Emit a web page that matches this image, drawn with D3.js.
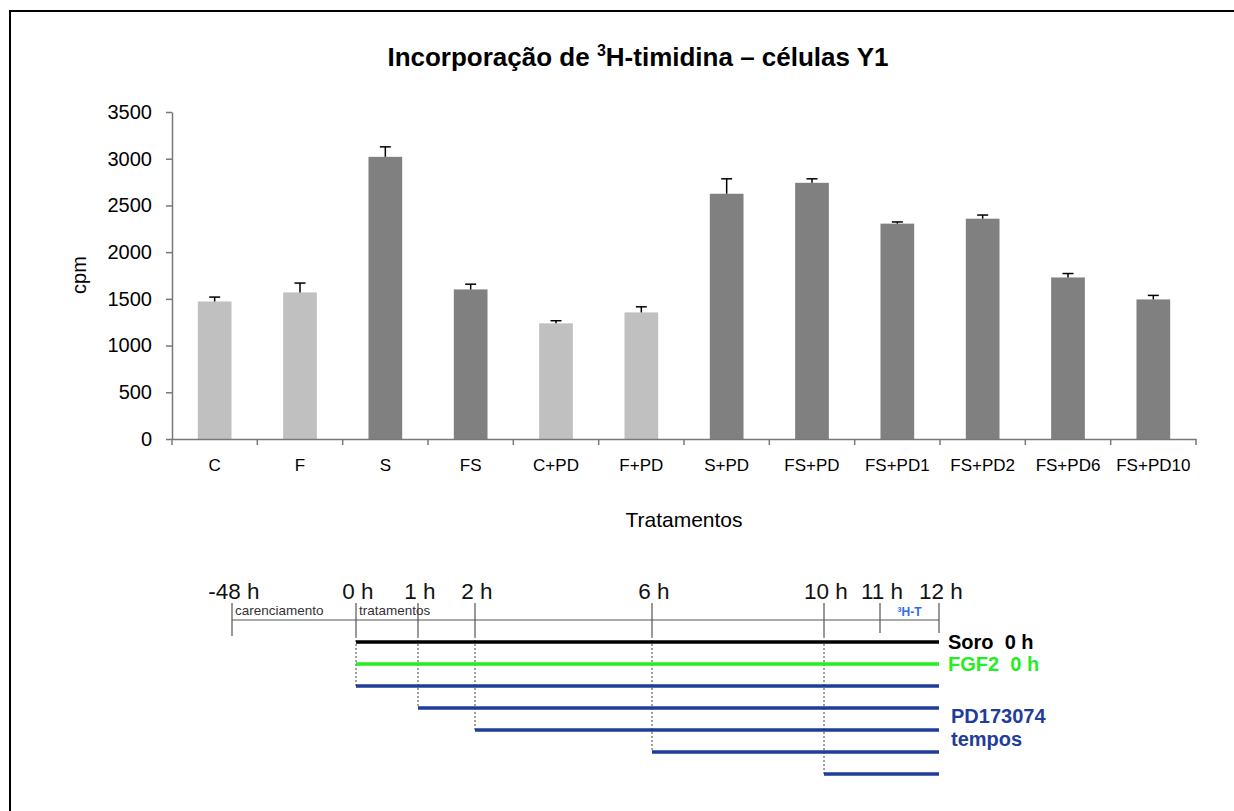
<!DOCTYPE html>
<html>
<head>
<meta charset="utf-8">
<script src="https://cdn.jsdelivr.net/npm/d3@7"></script>
<style>
  body { margin: 0; background: #fff; }
  svg text { font-family: "Liberation Sans", Arial, sans-serif; }
</style>
</head>
<body>
<div id="chart"></div>
<script>
// bar chart data
var categories = ['C', 'F', 'S', 'FS', 'C+PD', 'F+PD', 'S+PD', 'FS+PD', 'FS+PD1', 'FS+PD2', 'FS+PD6', 'FS+PD10'];
var cpm = [1472, 1569, 3020, 1601, 1238, 1355, 2625, 2742, 2305, 2358, 1729, 1494];
var errors = [47, 100, 107, 56, 28, 60, 160, 43, 18, 39, 42, 43];
var withSerum = [false, false, true, true, false, false, true, true, true, true, true, true];
var yTicks = [0, 500, 1000, 1500, 2000, 2500, 3000, 3500];

// timeline diagram data
var timePoints = [-48, 0, 1, 2, 6, 10, 11, 12];
var timeLabels = ['-48 h', '0 h', '1 h', '2 h', '6 h', '10 h', '11 h', '12 h'];
var phaseLabels = ['carenciamento', 'tratamentos'];
var phaseStarts = [-48, 0];
var rowAgents = ['Soro', 'FGF2', 'PD', 'PD', 'PD', 'PD', 'PD'];
var rowStarts = [0, 0, 0, 1, 2, 6, 10];
var rowEnd = 12;

var width = 1234, height = 811;

var svg = d3.select('#chart').append('svg')
  .attr('width', width)
  .attr('height', height);

// outer frame (right / bottom edges fall outside the picture)
svg.append('rect')
  .attr('x', 10).attr('y', 11)
  .attr('width', 1300).attr('height', 900)
  .attr('fill', 'none')
  .attr('stroke', '#000')
  .attr('stroke-width', 2);

// title
var title = svg.append('text')
  .attr('x', 638).attr('y', 66)
  .attr('text-anchor', 'middle')
  .attr('font-size', 26)
  .attr('font-weight', 'bold');
title.append('tspan').text('Incorporação de ');
title.append('tspan').attr('font-size', 16).attr('dy', -10).text('3');
title.append('tspan').attr('dy', 10).text('H-timidina – células Y1');

var x = d3.scaleBand().domain(categories).range([172, 1196]);
var y = d3.scaleLinear().domain([0, 3500]).range([439, 112]);
var color = d3.scaleOrdinal().domain([false, true]).range(['#c0c0c0', '#808080']);
var barW = 33.7;

var rows = categories.map(function (c, i) {
  return { name: c, value: cpm[i], err: errors[i], serum: withSerum[i] };
});

// bars
svg.selectAll('.bar')
  .data(rows)
  .enter().append('rect')
  .attr('class', 'bar')
  .attr('x', function (d) { return x(d.name) + (x.bandwidth() - barW) / 2 })
  .attr('y', function (d) { return y(d.value) })
  .attr('width', barW)
  .attr('height', function (d) { return y(0) - y(d.value) })
  .attr('fill', function (d) { return color(d.serum) });

// error bars (upper only)
var eb = svg.selectAll('.err')
  .data(rows)
  .enter().append('g')
  .attr('class', 'err')
  .attr('stroke', '#000')
  .attr('stroke-width', 1.5);
eb.append('line')
  .attr('x1', function (d) { return x(d.name) + x.bandwidth() / 2 })
  .attr('x2', function (d) { return x(d.name) + x.bandwidth() / 2 })
  .attr('y1', function (d) { return y(d.value) })
  .attr('y2', function (d) { return y(d.value + d.err) });
eb.append('line')
  .attr('x1', function (d) { return x(d.name) + x.bandwidth() / 2 - 5.5 })
  .attr('x2', function (d) { return x(d.name) + x.bandwidth() / 2 + 5.5 })
  .attr('y1', function (d) { return y(d.value + d.err) })
  .attr('y2', function (d) { return y(d.value + d.err) });

// y axis
var yAxis = svg.append('g')
  .attr('transform', 'translate(172,0)')
  .call(d3.axisLeft(y).tickValues(yTicks).tickFormat(d3.format('d'))
    .tickSize(6).tickSizeOuter(0).tickPadding(14));
yAxis.selectAll('text').attr('font-size', 20).attr('fill', '#000')
  .style('font-family', '"Liberation Sans", Arial, sans-serif');
yAxis.selectAll('line').attr('stroke', '#777').attr('stroke-width', 1.5);
yAxis.select('.domain').attr('stroke', '#777').attr('stroke-width', 1.5);

// x axis
var xAxis = svg.append('g')
  .attr('transform', 'translate(0,439)')
  .call(d3.axisBottom(x).tickSize(0).tickSizeOuter(0).tickPadding(20));
xAxis.selectAll('text').attr('font-size', 17).attr('fill', '#000')
  .style('font-family', '"Liberation Sans", Arial, sans-serif');
xAxis.select('.domain').attr('stroke', '#777').attr('stroke-width', 1.5);
xAxis.selectAll('.bound')
  .data(categories.map(function (c) { return x(c) }).concat([x.range()[1]]))
  .enter().append('line')
  .attr('class', 'bound')
  .attr('x1', function (d) { return d }).attr('x2', function (d) { return d })
  .attr('y1', 0).attr('y2', 6)
  .attr('stroke', '#777').attr('stroke-width', 1.5);

// axis titles
svg.append('text')
  .attr('transform', 'translate(86,275) rotate(-90)')
  .attr('text-anchor', 'middle')
  .attr('font-size', 20)
  .text('cpm');
svg.append('text')
  .attr('x', 684).attr('y', 527)
  .attr('text-anchor', 'middle')
  .attr('font-size', 21)
  .text('Tratamentos');

// ---- timeline diagram ----
var t = d3.scaleLinear().domain(timePoints).range([232, 356, 418, 475, 652, 824, 880, 939]);
var r = d3.scalePoint().domain(d3.range(rowStarts.length)).range([642, 774]);
var agentColor = d3.scaleOrdinal().domain(['Soro', 'FGF2', 'PD']).range(['#000', '#22ee22', '#1f3d99']);
var axisY = 620, tickTop = 603, tickBottom = 636;

svg.append('line')
  .attr('x1', t(timePoints[0])).attr('x2', t(rowEnd))
  .attr('y1', axisY).attr('y2', axisY)
  .attr('stroke', '#aaa').attr('stroke-width', 2);

svg.selectAll('.tlabel')
  .data(timePoints)
  .enter().append('text')
  .attr('class', 'tlabel')
  .attr('x', function (d) { return t(d) + 2 })
  .attr('y', 599)
  .attr('text-anchor', 'middle')
  .attr('font-size', 22.5)
  .attr('fill', '#111')
  .text(function (d, i) { return timeLabels[i] });

svg.selectAll('.ttick')
  .data(timePoints)
  .enter().append('line')
  .attr('class', 'ttick')
  .attr('x1', function (d) { return t(d) }).attr('x2', function (d) { return t(d) })
  .attr('y1', tickTop)
  .attr('y2', function (d) { return d >= 11 ? 633 : tickBottom })
  .attr('stroke', '#555').attr('stroke-width', 1.2);

// dotted drop lines to the lowest bar starting at each time
var drops = timePoints.filter(function (tp) { return rowStarts.indexOf(tp) >= 0 }).map(function (tp) {
  return { time: tp, row: rowStarts.lastIndexOf(tp) };
});
svg.selectAll('.drop')
  .data(drops)
  .enter().append('line')
  .attr('class', 'drop')
  .attr('x1', function (d) { return t(d.time) }).attr('x2', function (d) { return t(d.time) })
  .attr('y1', tickBottom)
  .attr('y2', function (d) { return r(d.row) })
  .attr('stroke', '#444').attr('stroke-width', 1)
  .attr('stroke-dasharray', '2,2');

svg.selectAll('.phase')
  .data(phaseLabels)
  .enter().append('text')
  .attr('class', 'phase')
  .attr('x', function (d, i) { return t(phaseStarts[i]) + 3 })
  .attr('y', 615)
  .attr('font-size', 13.5)
  .attr('fill', '#333')
  .text(function (d) { return d });

svg.append('text')
  .attr('x', (t(11) + t(12)) / 2).attr('y', 616)
  .attr('text-anchor', 'middle')
  .attr('font-size', 12)
  .attr('font-weight', 'bold')
  .attr('fill', '#2e6bf0')
  .text('³H-T');

svg.selectAll('.treat')
  .data(rowStarts)
  .enter().append('line')
  .attr('class', 'treat')
  .attr('x1', function (d) { return t(d) }).attr('x2', t(rowEnd))
  .attr('y1', function (d, i) { return r(i) }).attr('y2', function (d, i) { return r(i) })
  .attr('stroke', function (d, i) { return agentColor(rowAgents[i]) })
  .attr('stroke-width', 3.5);

// treatment captions
var capX = 948;
svg.append('text').attr('x', capX).attr('y', r(0) + 7)
  .attr('font-size', 20).attr('font-weight', 'bold').attr('fill', agentColor('Soro'))
  .style('white-space', 'pre').text('Soro  0 h');
svg.append('text').attr('x', capX).attr('y', r(1) + 7)
  .attr('font-size', 20).attr('font-weight', 'bold').attr('fill', agentColor('FGF2'))
  .style('white-space', 'pre').text('FGF2  0 h');
svg.append('text').attr('x', capX + 3).attr('y', r(3) + 15)
  .attr('font-size', 20).attr('font-weight', 'bold').attr('fill', agentColor('PD'))
  .text('PD173074');
svg.append('text').attr('x', capX + 3).attr('y', r(4) + 16)
  .attr('font-size', 20).attr('font-weight', 'bold').attr('fill', agentColor('PD'))
  .text('tempos');
</script>
</body>
</html>
